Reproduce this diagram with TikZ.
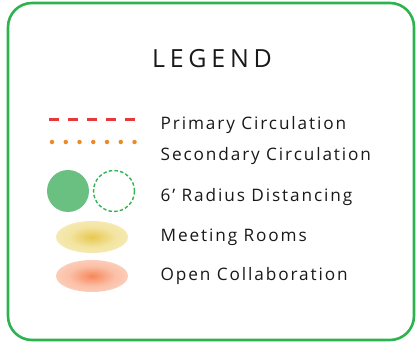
\documentclass[tikz,border=0pt]{standalone}
\usepackage{fontspec}
\setmainfont{Open Sans}[LetterSpace=11]
\newfontfamily\titlefont{Open Sans}[LetterSpace=19]
\definecolor{framegreen}{RGB}{45,178,78}
\definecolor{fillgreen}{RGB}{106,192,128}
\definecolor{dashgreen}{RGB}{52,180,80}
\definecolor{primred}{RGB}{232,56,60}
\definecolor{secorange}{RGB}{236,138,42}
\definecolor{ycen}{RGB}{232,200,80}
\definecolor{ymid}{RGB}{243,228,160}
\definecolor{yedge}{RGB}{251,247,228}
\definecolor{ocen}{RGB}{247,135,90}
\definecolor{omid}{RGB}{251,192,168}
\definecolor{oedge}{RGB}{254,238,230}
\pgfdeclareradialshading{yellowglow}{\pgfpoint{0bp}{0bp}}{color(0bp)=(ycen); color(16bp)=(ymid); color(50bp)=(yedge); color(51bp)=(yedge)}
\pgfdeclareradialshading{orangeglow}{\pgfpoint{0bp}{0bp}}{color(0bp)=(ocen); color(16bp)=(omid); color(50bp)=(oedge); color(51bp)=(oedge)}
\tikzset{
  label text/.style={anchor=base west, inner sep=0pt, font=\fontsize{17.2}{20}\selectfont, text=black!90},
}
\begin{document}
\begin{tikzpicture}[x=1pt,y=-1pt]
\useasboundingbox (0,0) rectangle (418,345);
\draw[framegreen, line width=2.6pt, rounded corners=24pt] (8,3) rectangle (414,340);
\node[anchor=base, inner sep=0pt, font=\titlefont\fontsize{25}{29}\selectfont, text=black!90] (title) at (212,67) {LEGEND};
% primary
\coordinate (p1) at (49,119);
\coordinate (p2) at (135,119);
\draw[primred, line width=3pt, dash pattern=on 10pt off 9pt] (p1) -- (p2);
\node[label text] (tprim) at (160.5,129) {Primary Circulation};
% secondary
\coordinate (s1) at (52,142);
\coordinate (s2) at (134.5,142);
\draw[secorange, line width=4.5pt, line cap=round, dash pattern=on 0pt off 13.75pt] (s1) -- (s2);
\node[label text] (tsec) at (160.5,160) {Secondary Circulation};
% distancing
\fill[fillgreen] (68,191) circle (21);
\draw[dashgreen, line width=1.4pt, dash pattern=on 3.5pt off 2.2pt] (114,191) circle (20.5);
\node[label text] (tdist) at (160.5,201) {6’ Radius Distancing};
% meeting
\shade[shading=yellowglow] (92,237) ellipse (36 and 16);
\node[label text] (tmeet) at (160.5,241) {Meeting Rooms};
% open
\shade[shading=orangeglow] (92,276) ellipse (36 and 16);
\node[label text] (topen) at (160.5,280) {Open Collaboration};
\end{tikzpicture}
\end{document}
